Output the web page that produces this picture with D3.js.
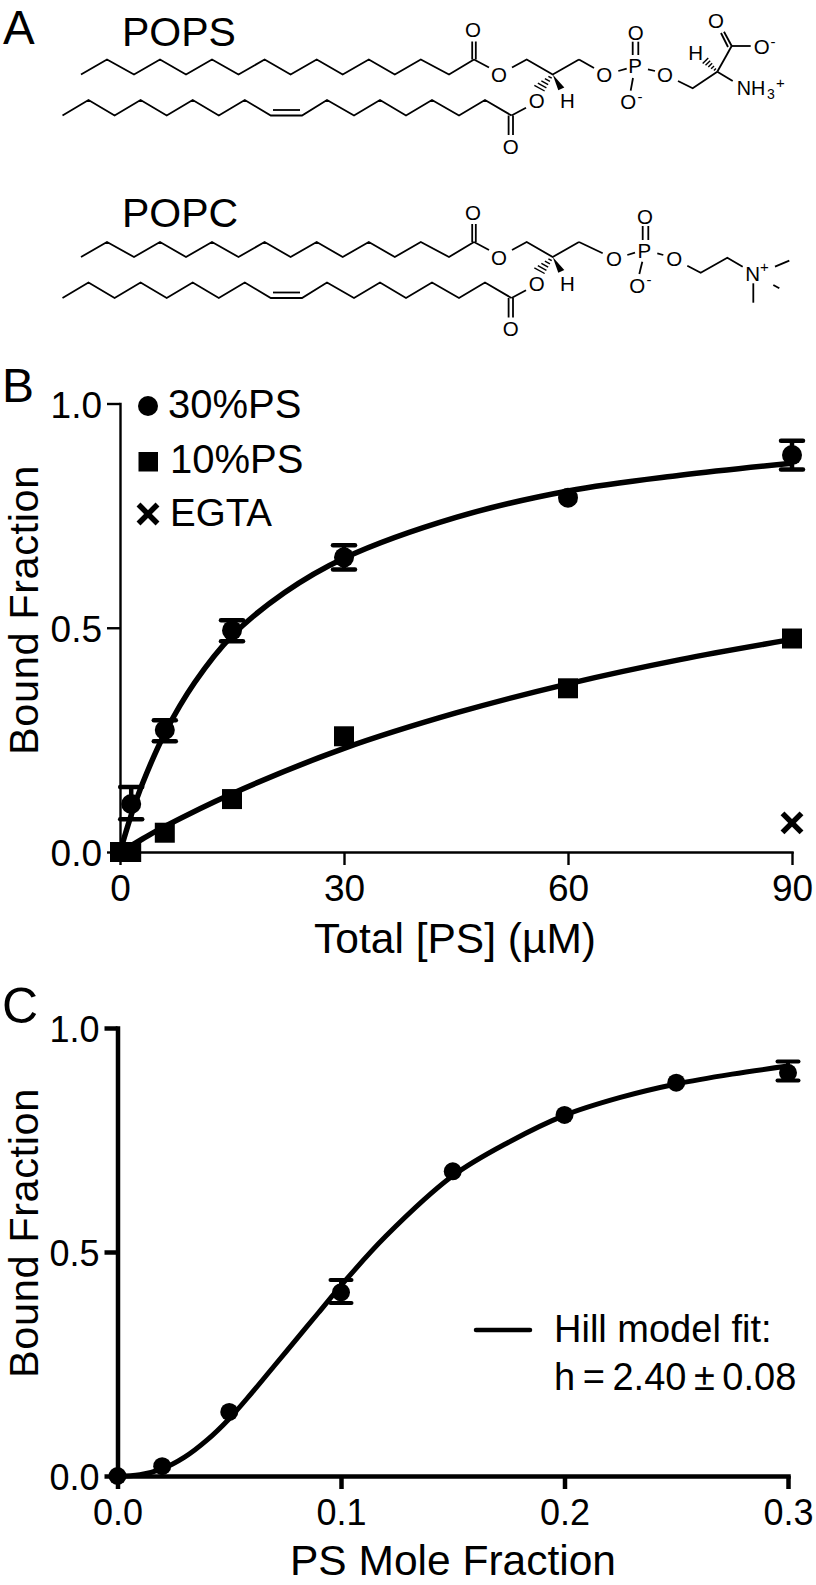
<!DOCTYPE html>
<html><head><meta charset="utf-8">
<script src="https://cdn.jsdelivr.net/npm/d3@7/dist/d3.min.js"></script>
<style>
html,body{margin:0;padding:0;background:#fff}
svg{display:block}
text{font-family:"Liberation Sans",Arial,sans-serif;fill:#000}
</style></head><body>
<svg id="fig" width="816" height="1585"></svg>
<script>
// ---------- Panel B values
const bXTicks=[0,30,60,90], bYTicks=[0,0.5,1];
const bX=[0,1.5,6,15,30,60,90];
const ps30=[0,0.107,0.272,0.494,0.657,0.79,0.885];
const ps30Hi=[0,0.145,0.294,0.517,0.684,0.79,0.917];
const ps30Lo=[0,0.073,0.247,0.47,0.63,0.79,0.853];
const ps10=[0,0,0.043,0.118,0.258,0.365,0.476];
const egtaX=[90], egtaY=[0.065];
const fit30X=[0,1.5,3,6,10,15,22,30,45,60,75,90];
const fit30Y=[0,0.082,0.152,0.265,0.378,0.482,0.578,0.655,0.746,0.805,0.84,0.867];
const fit10X=[0,3,6,15,30,45,60,75,90];
const fit10Y=[0,0.029,0.057,0.13,0.231,0.31,0.375,0.429,0.474];
const legendB=["30%PS","10%PS","EGTA"];
// ---------- Panel C values
const cXTicks=[0,0.1,0.2,0.3], cYTicks=[0,0.5,1];
const cX=[0,0.02,0.05,0.1,0.15,0.2,0.25,0.3];
const cY=[0,0.022,0.143,0.41,0.68,0.806,0.878,0.9];
const cHi=[0,0.022,0.143,0.4375,0.68,0.806,0.878,0.925];
const cLo=[0,0.022,0.143,0.386,0.68,0.806,0.878,0.883];
const fitCX=[0,0.01,0.02,0.03,0.04,0.05,0.06,0.07,0.08,0.09,0.1,0.12,0.15,0.175,0.2,0.225,0.25,0.275,0.3];
const fitCY=[0,0.003,0.016,0.042,0.08,0.128,0.185,0.245,0.305,0.365,0.425,0.535,0.67,0.745,0.805,0.845,0.875,0.897,0.915];
const hillText=["Hill model fit:","h = 2.40 \u00b1 0.08"];

const svg=d3.select("#fig");
svg.append("rect").attr("width",816).attr("height",1585).attr("fill","#fff");
function txt(g,s,x,y,size,anchor){
  return g.append("text").attr("x",x).attr("y",y).attr("font-size",size)
    .attr("text-anchor",anchor||"start").text(s);
}
// ---------- Panel A: chemical structures
const ATOM=20.5;
function drawLipid(g,o){
  const ink="#000";
  const line=(pts,w)=>g.append("path").attr("d",d3.line()(pts)).attr("fill","none")
     .attr("stroke",ink).attr("stroke-width",w||1.8).attr("stroke-linejoin","miter");
  const atom=(s,x,y,size)=>g.append("text").attr("x",x).attr("y",y).attr("font-size",size||ATOM)
     .attr("text-anchor","middle").attr("dominant-baseline","central").text(s);
  const dbl=(x1,y1,x2,y2,d)=>{line([[x1-d,y1],[x2-d,y2]]);line([[x1+d,y1],[x2+d,y2]]);};
  const y1lo=o.y,y1hi=o.y-15;
  // sn-1 chain
  const sn1X=[81,107,134,160,186,212,238.5,264.6,290.6,316.7,342.7,368.8,394.8,420.8,449,474];
  line(sn1X.map((x,i)=>[x,i%2?y1hi:y1lo]));
  dbl(474,y1hi,474,y1hi-18,1.8);
  atom("O",473,y1hi-30);
  line([[474,y1hi],[489,y1hi+8]]);
  atom("O",499,y1lo);
  line([[512,y1hi+8],[526.7,y1hi],[552.7,y1lo],[579,y1hi]]);
  // sn-2 chain
  const y2lo=o.y+41,y2hi=y2lo-15.5;
  const sn2X=[62.5,88.5,114.6,140.6,166.7,192.7,218.8,244.8,270.8,302,327,354,380,406,432,459,485,511.5];
  const sn2Y=[0,1,0,1,0,1,0,1,0,0,1,0,1,0,1,0,1,0];
  line(sn2X.map((x,i)=>[x,sn2Y[i]?y2hi:y2lo]));
  line([[273,y2lo-5.5],[300,y2lo-5.5]]);
  line([[511.5,y2lo],[526,y2lo-7.7]]);
  atom("O",536.7,y2lo-15);
  dbl(510.8,y2lo,510.8,y2lo+19.5,2.2);
  atom("O",510.7,y2lo+30.5);
  // stereo centre
  g.append("path").attr("d",d3.line()([[552.7,y1lo],[558.3,y1lo+15.7],[564.3,y1lo+13]])+"Z").attr("fill",ink);
  for(let i=1;i<=5;i++){
    const t=i/5.3,cx=552.7-14*t,cy=y1lo+14.5*t,h=0.8+t*4.6;
    line([[cx-h,cy-h*0.55],[cx+h,cy+h*0.55]],1.4);
  }
  atom("H",567.3,y1lo+26.3);
  o.head(line,atom,dbl,y1lo,y1hi);
}
const mol=svg.append("g").attr("id","structures");
function g_text(s,x,y,size){return mol.append("text").attr("x",x).attr("y",y).attr("font-size",size).text(s);}
drawLipid(mol,{y:74.5,head:(line,atom,dbl)=>{
  line([[579,59.5],[594,68]]);
  atom("O",604.3,74);
  line([[618.3,71],[626.7,68.7]]);
  atom("P",635,65.7);
  dbl(635.5,41.7,635.5,55,2.8);
  atom("O",635.7,32.3);
  line([[633,78],[630.7,90.7]]);
  atom("O",628.3,101.7);
  atom("-",640,96,15);
  line([[648,69.3],[655,71]]);
  atom("O",665,74);
  line([[678,81],[692.7,88.3],[717.3,71.7]]);
  line([[717.3,71.7],[731.7,46]]);
  line([[731.7,46],[724,31.7]]);line([[728,47],[721,33]]);
  atom("O",716,20.7);
  line([[731.7,46],[750.7,46]]);
  atom("O",761.7,46.7);
  atom("-",773,41,15);
  line([[717.3,71.7],[732.7,81]]);
  g_text("NH",736.7,95,19.8);g_text("3",767,99,14);g_text("+",776,88,15);
  atom("H",695.7,52.3);
  for(let i=1;i<=5;i++){const t=i/5.5,cx=717.3-13*t,cy=71.7-12*t,h=0.8+t*3.5;
    line([[cx-h*0.7,cy+h*0.7],[cx+h*0.7,cy-h*0.7]],1.4);}
}});
drawLipid(mol,{y:257,head:(line,atom,dbl)=>{
  line([[579,242],[602.7,253.3]]);
  atom("O",614,258.3);
  line([[627.3,255],[635,252.7]]);
  atom("P",644.3,250);
  dbl(645.5,226,645.5,240,2.8);
  atom("O",645,216);
  line([[642.3,261.7],[639.3,274]]);
  atom("O",637.3,285);
  atom("-",649,279.5,15);
  line([[657.3,253.3],[663.3,255]]);
  atom("O",674.3,258.3);
  line([[687.3,265.7],[700.7,272.7],[727.3,257.7],[742.7,266.7]]);
  atom("N",752.7,273.3);
  g_text("+",760,272,15);
  line([[775,266.7],[789.3,260.7]]);
  line([[773.3,285],[779.3,288.3]]);
  line([[753.3,283.3],[753.3,302.7]]);
}});
txt(svg,"A",3,43.5,47.5);
txt(svg,"POPS",122,46,41);
txt(svg,"POPC",122,226.5,41);

// ---------- shared chart helper
function styleAxis(g,w){
  g.selectAll("path.domain").attr("stroke","#000").attr("stroke-width",w).attr("stroke-linecap","square");
  g.selectAll(".tick line").attr("stroke","#000").attr("stroke-width",w);
}
function chart(cfg){
  const g=svg.append("g");
  const x=d3.scaleLinear().domain(cfg.xd).range(cfg.xr);
  const y=d3.scaleLinear().domain([0,1]).range(cfg.yr);
  const ax=g.append("g").attr("transform",`translate(0,${cfg.yr[0]})`)
    .call(d3.axisBottom(x).tickValues(cfg.xt).tickFormat(cfg.xf).tickSizeInner(13).tickSizeOuter(0).tickPadding(10));
  const ay=g.append("g").attr("transform",`translate(${cfg.xr[0]},0)`)
    .call(d3.axisLeft(y).tickValues(cfg.yt).tickFormat(d3.format(".1f")).tickSizeInner(13).tickSizeOuter(0).tickPadding(5));
  ay.selectAll("text").attr("dy",".37em");
  [ax,ay].forEach(a=>{styleAxis(a,cfg.axisW);a.attr("font-family",null).attr("font-size",null);
    a.selectAll("text").attr("font-size",cfg.tickFont).attr("fill","#000");});
  return {g,x,y};
}
function curve(c,xs,ys,w){
  c.g.append("path").datum(xs.map((v,i)=>[v,ys[i]]))
   .attr("d",d3.line().x(d=>c.x(d[0])).y(d=>c.y(d[1])).curve(d3.curveCatmullRom.alpha(0.5)))
   .attr("fill","none").attr("stroke","#000").attr("stroke-width",w);
}
function errs(c,xs,hi,lo,cap,w){
  xs.forEach((v,i)=>{
    if(hi[i]===lo[i])return;
    const px=c.x(v);
    c.g.append("line").attr("x1",px).attr("x2",px).attr("y1",c.y(hi[i])).attr("y2",c.y(lo[i])).attr("stroke","#000").attr("stroke-width",w);
    [hi[i],lo[i]].forEach(e=>c.g.append("line").attr("x1",px-cap).attr("x2",px+cap).attr("y1",c.y(e)).attr("y2",c.y(e))
       .attr("stroke","#000").attr("stroke-width",w).attr("stroke-linecap","round"));
  });
}
function cross(g,cx,cy,r){
  [[-1,-1,1,1],[-1,1,1,-1]].forEach(a=>g.append("line").attr("x1",cx+a[0]*r).attr("y1",cy+a[1]*r).attr("x2",cx+a[2]*r).attr("y2",cy+a[3]*r).attr("stroke","#000").attr("stroke-width",5.5));
}
// ---------- Panel B
const B=chart({xd:[0,90],xr:[120,792],yr:[852,403.5],xt:bXTicks,yt:bYTicks,xf:d3.format("d"),axisW:2.4,tickFont:37});
errs(B,bX,ps30Hi,ps30Lo,11,4.5);
curve(B,fit30X,fit30Y,5.5);
curve(B,fit10X,fit10Y,5.5);
B.g.selectAll("circle.p").data(bX).enter().append("circle").attr("cx",d=>B.x(d)).attr("cy",(d,i)=>B.y(ps30[i])).attr("r",10).attr("fill","#000");
B.g.selectAll("rect.s").data(bX).enter().append("rect").attr("x",d=>B.x(d)-10).attr("y",(d,i)=>B.y(ps10[i])-10).attr("width",20).attr("height",20).attr("fill","#000");
cross(B.g,B.x(egtaX[0]),B.y(egtaY[0]),9.5);
// legend B
B.g.append("circle").attr("cx",148).attr("cy",406).attr("r",10).attr("fill","#000");
txt(B.g,legendB[0],168,418,40);
B.g.append("rect").attr("x",138.5).attr("y",452).attr("width",19.5).attr("height",19.5).attr("fill","#000");
txt(B.g,legendB[1],170,473,40);
cross(B.g,148,514,9.5);
txt(B.g,legendB[2],170,526,38.5);
txt(svg,"B",2,402,48);
txt(svg,"Total [PS] (\u00b5M)",455,953,42.5,"middle");
svg.append("text").attr("transform","translate(38,610) rotate(-90)").attr("text-anchor","middle").attr("font-size",41.5).attr("letter-spacing",0.6).text("Bound Fraction");
// ---------- Panel C
const C=chart({xd:[0,0.3],xr:[117.5,788],yr:[1476,1028],xt:cXTicks,yt:cYTicks,xf:d3.format(".1f"),axisW:4.5,tickFont:36});
errs(C,cX,cHi,cLo,10.5,4);
curve(C,fitCX,fitCY,5);
C.g.selectAll("circle.p").data(cX).enter().append("circle").attr("cx",d=>C.x(d)).attr("cy",(d,i)=>C.y(cY[i])).attr("r",9).attr("fill","#000");
C.g.append("line").attr("x1",476).attr("x2",530).attr("y1",1330).attr("y2",1330).attr("stroke","#000").attr("stroke-width",4.5).attr("stroke-linecap","round");
txt(C.g,hillText[0],554,1342,38);
txt(C.g,hillText[1],554,1390,38).attr("word-spacing",-3);
txt(svg,"C",2,1023,50);
txt(svg,"PS Mole Fraction",453,1575,42.5,"middle");
svg.append("text").attr("transform","translate(38,1233) rotate(-90)").attr("text-anchor","middle").attr("font-size",41.5).attr("letter-spacing",0.6).text("Bound Fraction");
</script>
</body></html>
